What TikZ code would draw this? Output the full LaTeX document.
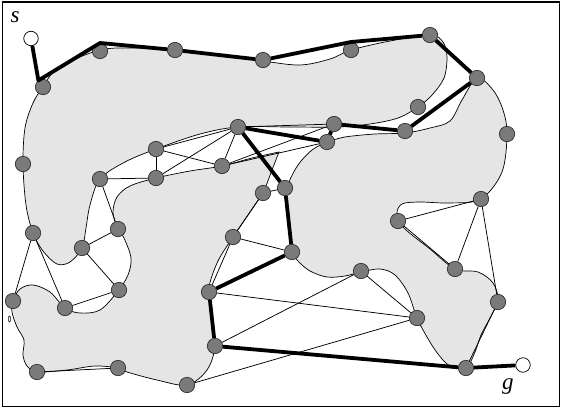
\documentclass[tikz,border=0pt]{standalone}
\usepackage{fontspec}
\setmainfont{Liberation Serif}
\definecolor{regiongray}{RGB}{229,229,229}
\definecolor{vtxgray}{RGB}{122,122,122}
\begin{document}
\begin{tikzpicture}[x=1pt,y=-1pt,
  region/.style={fill=regiongray, draw=black, line width=0.7pt},
  vtx/.style={circle, fill=vtxgray, draw=black!85, line width=0.6pt, minimum size=15.4pt, inner sep=0pt},
  endpt/.style={circle, fill=white, draw=black, line width=0.7pt, minimum size=14.5pt, inner sep=0pt},
  edge/.style={draw=black, line width=0.75pt},
  pathedge/.style={draw=black, line width=3.8pt, line join=round},
  lbl/.style={font=\fontsize{23}{23}\selectfont\itshape, inner sep=0pt}]
\useasboundingbox (0,0) rectangle (563,410);
\fill[white] (0,0) rectangle (563,410);
\draw[line width=1.2pt] (2.5,2) rectangle (559.5,406.5);

% obstacle regions
\draw[region] plot[smooth cycle, tension=0.55] coordinates {
 (43,87) (58,68) (100,50) (140,48) (175,49) (215,54) (263,61) (300,65) (330,59) (351,50)
 (390,41) (430,35) (443,42) (447,57) (444,78) (432,95) (418,107) (398,118) (370,124)
 (337,127) (290,127) (238,127) (200,134) (156,149) (125,162) (100,179) (90,205) (86,228)
 (82,248) (70,262) (57,264) (43,251) (33,233) (26,205) (23,164) (25,128) (33,103)};
\draw[region] plot[smooth, tension=0.55] coordinates {
 (279,152) (272,170) (266,186) (263,193) (248,215) (233,237) (219,259) (211,279) (209,292)
 (212,315) (215,346) (207,370) (187,385) (157,380) (127,372) (118,368) (95,366) (67,370)
 (37,372) (27,366) (23,355) (24,340) (17,327) (12,312) (13,301) (20,289) (33,285) (50,292)
 (65,308) (80,313) (100,310) (118,291) (128,275) (131,258) (124,238) (118,229) (113,213)
 (117,197) (130,186) (156,178) (190,171) (222,166) (252,158) (279,152)} -- cycle;
\draw[region] plot[smooth, tension=0.55] coordinates {
 (327,142) (345,137) (375,134) (405,133) (430,128) (450,121) (462,100) (477,78) (493,90)
 (503,110) (507,134) (502,172) (481,199) (450,203) (420,202) (402,204) (397,214) (404,228)
 (430,249) (455,269) (478,272) (493,283) (498,300) (490,318) (481,335) (475,352) (466,368)
 (450,366) (438,354) (427,337) (417,318) (408,293) (395,275) (380,269) (361,272) (345,276)
 (327,277) (310,271) (298,261) (292,252) (289,228) (286,205) (288,185) (298,165) (312,150)
 (327,142)} -- cycle;
\draw[line width=0.5pt] (9.5,319) ellipse [x radius=1.2pt, y radius=3pt];

% vertices
\node[endpt] (s) at (31,38.5) {};
\node[endpt] (g) at (523,365) {};
\node[vtx] (n1) at (43,87) {};
\node[vtx] (n2) at (100,51) {};
\node[vtx] (n3) at (175,50) {};
\node[vtx] (n4) at (263,60) {};
\node[vtx] (n5) at (351,50) {};
\node[vtx] (n6) at (430,35) {};
\node[vtx] (n7) at (477,78) {};
\node[vtx] (n8) at (418,107) {};
\node[vtx] (n9) at (507,134) {};
\node[vtx] (n10) at (405,131) {};
\node[vtx] (n11) at (334,124) {};
\node[vtx] (n12) at (327,142) {};
\node[vtx] (n13) at (238,127) {};
\node[vtx] (n14) at (156,149) {};
\node[vtx] (n15) at (222,166) {};
\node[vtx] (n16) at (100,179) {};
\node[vtx] (n17) at (156,178) {};
\node[vtx] (n18) at (23,164) {};
\node[vtx] (n19) at (263,193) {};
\node[vtx] (n20) at (285,188) {};
\node[vtx] (n21) at (233,237) {};
\node[vtx] (n22) at (292,252) {};
\node[vtx] (n23) at (33,233) {};
\node[vtx] (n24) at (82,248) {};
\node[vtx] (n25) at (118,229) {};
\node[vtx] (n26) at (119,290) {};
\node[vtx] (n27) at (65,308) {};
\node[vtx] (n28) at (13,301) {};
\node[vtx] (n29) at (209,292) {};
\node[vtx] (n30) at (215,346) {};
\node[vtx] (n31) at (37,372) {};
\node[vtx] (n32) at (118,368) {};
\node[vtx] (n33) at (187,385) {};
\node[vtx] (n34) at (361,271) {};
\node[vtx] (n35) at (417,318) {};
\node[vtx] (n36) at (466,368) {};
\node[vtx] (n37) at (498,302) {};
\node[vtx] (n38) at (455,269) {};
\node[vtx] (n39) at (398,221) {};
\node[vtx] (n40) at (481,199) {};

% thin edges
\draw[edge] (n13) -- (n14);
\draw[edge] (n13) -- (n17);
\draw[edge] (n13) -- (n15);
\draw[edge] (n13) -- (n11);
\draw[edge] (n14) -- (n15);
\draw[edge] (n14) -- (n17);
\draw[edge] (n16) -- (n17);
\draw[edge] (n15) -- (n12);
\draw[edge] (n15) -- (n11);
\draw[edge] (n19) -- (n20);
\draw[edge] (n19) -- (n21);
\draw[edge] (n21) -- (n22);
\draw[edge] (n21) -- (n29);
\draw[edge] (n29) -- (n35);
\draw[edge] (n30) -- (n34);
\draw[edge] (n34) -- (n35);
\draw[edge] (n33) -- (n35);
\draw[edge] (n31) -- (n32);
\draw[edge] (n26) -- (n27);
\draw[edge] (n24) -- (n25);
\draw[edge] (n24) -- (n26);
\draw[edge] (n16) -- (n25);
\draw[edge] (n23) -- (n27);
\draw[edge] (n23) -- (n28);
\draw[edge] (n39) -- (n40);
\draw[edge] (n39) -- (n38);
\draw[edge] (n40) -- (n38);
\draw[edge] (n40) -- (n37);
\draw[edge] (n37) -- (n36);

% solution path
\draw[pathedge] (s) -- (n1.125) -- (n2.north) -- (n3) -- (n4) -- (n5.north) -- (n6) -- (n7) -- (n10)
  -- (n11) -- (n12) -- (n13) -- (n20) -- (n22) -- (n29) -- (n30) -- (n36) -- (g);

% labels
\node[lbl, anchor=base west] (slabel) at (10.5,22.7) {s};
\node[lbl, anchor=base west] (glabel) at (502,389.5) {g};
\end{tikzpicture}
\end{document}
